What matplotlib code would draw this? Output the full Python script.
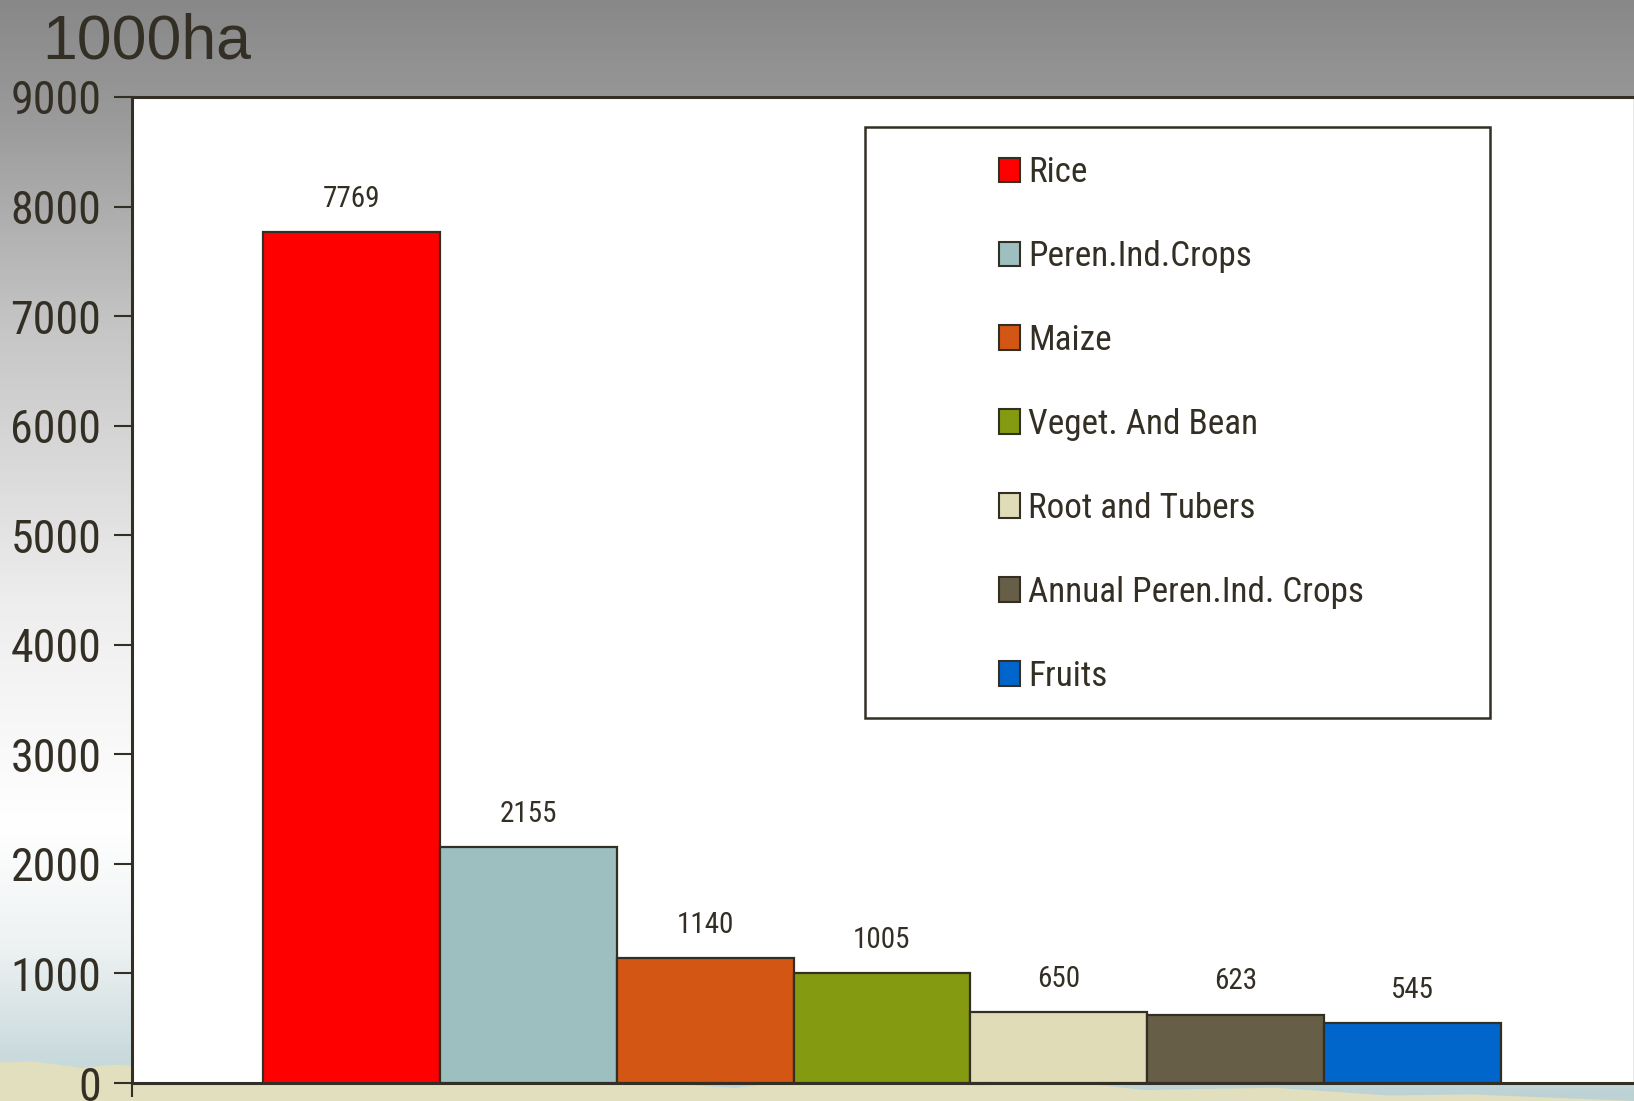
import numpy as np
import matplotlib
matplotlib.use("Agg")
import matplotlib.pyplot as plt
from matplotlib import font_manager
from matplotlib.colors import LinearSegmentedColormap
from matplotlib.patches import Rectangle, Patch

# planted area by crop group, thousand hectares
crops = ["Rice", "Peren.Ind.Crops", "Maize", "Veget. And Bean",
         "Root and Tubers", "Annual Peren.Ind. Crops", "Fruits"]
area = [7769, 2155, 1140, 1005, 650, 623, 545]
colors = ["#ff0000", "#9dbfbf", "#d35615", "#849a10",
          "#e0dcb8", "#675e48", "#0066cc"]
yticks = [0, 1000, 2000, 3000, 4000, 5000, 6000, 7000, 8000, 9000]

INK = "#332f25"

# prefer a narrow face for the axis text; shrink a regular one if none exists
installed = {f.name for f in font_manager.fontManager.ttflist}
NARROW, scale = ["Liberation Sans", "DejaVu Sans"], 0.87
for cand in ("Liberation Sans Narrow", "Arial Narrow", "Roboto Condensed"):
    if cand in installed:
        NARROW, scale = [cand, "DejaVu Sans"], 1.0
        break

fig = plt.figure(figsize=(16.34, 11.01), dpi=100)

# slide background: grey at the top fading to white, then pale blue-grey
bg = fig.add_axes([0, 0, 1, 1], zorder=-5)
bg.set_axis_off()
cmap = LinearSegmentedColormap.from_list("slide", [
    (0.00, "#888888"), (0.10, "#999999"), (0.30, "#c6c6c6"),
    (0.55, "#eeeeee"), (0.75, "#ffffff"), (0.86, "#eef2f3"),
    (1.00, "#bcd2d4")])
bg.imshow(np.linspace(0, 1, 256).reshape(-1, 1), aspect="auto",
          cmap=cmap, extent=[0, 1, 0, 1], origin="upper")
# beige ground strip along the bottom edge
ground_x = [0, 0.02, 0.05, 0.07, 0.09, 0.12, 0.2, 0.26, 0.3, 0.38, 0.45,
            0.5, 0.6, 0.65, 0.7, 0.78, 0.85, 0.9, 1.0]
ground_y = [0.035, 0.036, 0.030, 0.033, 0.031, 0.030, 0.024, 0.016, 0.025,
            0.018, 0.012, 0.02, 0.014, 0.018, 0.01, 0.012, 0.005, 0.006, 0.0]
bg.fill_between(ground_x, 0, ground_y, color="#e2dfbf", lw=0)
bg.set_xlim(0, 1)
bg.set_ylim(0, 1)

ax = fig.add_axes([0.0808, 0.0163, 0.9192, 0.8956])
ax.set_facecolor("white")

x = np.arange(len(crops))
ax.bar(x, area, width=1.0, color=colors, edgecolor=INK,
       linewidth=1.6, zorder=3)

for xi, v in zip(x, area):
    ax.annotate(f"{v}", (xi, v), xytext=(0, 24), textcoords="offset points",
                ha="center", va="center", fontsize=21 * scale, color=INK,
                family=NARROW)

ax.set_xlim(-1.243, 7.255)
ax.set_ylim(0, 9000)
ax.set_yticks(yticks)
ax.set_yticklabels([str(t) for t in yticks], family=NARROW,
                   fontsize=33 * scale, color=INK)
ax.tick_params(axis="y", direction="out", length=13, width=1.5,
               color=INK, pad=9)
ax.set_xticks([-1.243])
ax.set_xticklabels([""])
ax.tick_params(axis="x", direction="out", length=10, width=1.5, color=INK)

for side in ("left", "bottom", "top"):
    ax.spines[side].set_color(INK)
    ax.spines[side].set_linewidth(2.2)
ax.spines["right"].set_color("#888888")
ax.spines["right"].set_linewidth(1.0)

# legend: outlined box with the entries sitting in its left-centre
ax.add_patch(Rectangle((0.4883, 0.3702), 0.4157, 0.5994,
                       transform=ax.transAxes, fill=False, edgecolor=INK,
                       linewidth=1.8, zorder=5))
handles = [Patch(facecolor=c, edgecolor=INK, linewidth=1.5) for c in colors]
leg = ax.legend(handles, crops, loc="upper left",
                bbox_to_anchor=(0.577, 0.940), frameon=False,
                prop={"family": NARROW, "size": 25.3 * scale},
                handlelength=0.6, handleheight=0.7, handletextpad=0.23,
                labelspacing=1.45, borderpad=0, borderaxespad=0)
for t in leg.get_texts():
    t.set_color(INK)

fig.text(0.026, 0.947, "1000ha", fontsize=45, color=INK,
         family=["Liberation Sans", "DejaVu Sans"], ha="left",
         va="baseline")

fig.savefig("out.png", dpi=100)
